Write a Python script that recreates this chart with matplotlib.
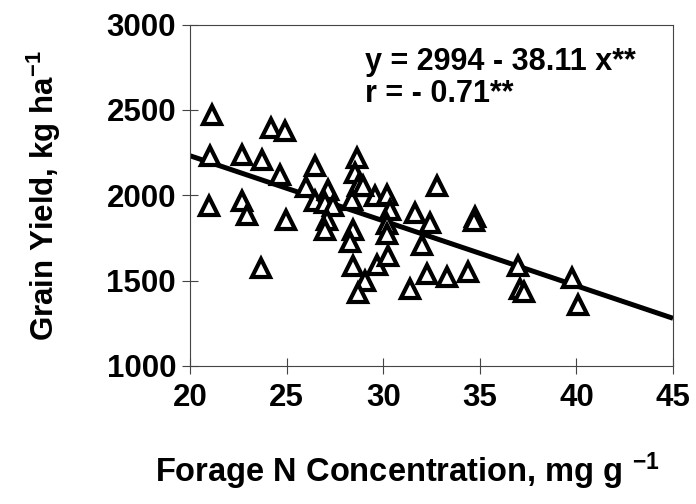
import numpy as np
import matplotlib
matplotlib.use("Agg")
import matplotlib.pyplot as plt

# forage N (mg/g) vs grain yield (kg/ha)
forage_n = [21.14, 21.04, 20.98, 24.19, 24.92, 22.69, 23.73, 24.66, 22.69, 22.95,
            24.97, 23.67, 26.00, 26.47, 26.47, 27.14, 26.99, 27.40, 27.09, 26.99,
            28.64, 28.54, 28.70, 28.39, 29.58, 30.20, 30.35, 30.20, 30.20, 28.44,
            28.28, 28.44, 29.68, 30.25, 29.06, 28.70, 31.39, 32.27, 33.30, 34.39,
            32.78, 31.65, 32.42, 32.01, 34.75, 34.70, 36.98, 37.08, 37.29, 39.77,
            40.08, 28.95]
grain_yield = [2468, 2228, 1936, 2392, 2374, 2234, 2205, 2117, 1965, 1883,
               1854, 1573, 2047, 2170, 1965, 2029, 1953, 1936, 1854, 1795,
               2216, 2129, 2053, 1971, 1994, 2000, 1912, 1830, 1772, 1795,
               1725, 1585, 1591, 1643, 1497, 1427, 1450, 1538, 1520, 1550,
               2053, 1895, 1836, 1708, 1871, 1848, 1585, 1450, 1433, 1515,
               1357, 2053]

intercept = 2994
slope = -38.11
x_ticks = [20, 25, 30, 35, 40, 45]
y_ticks = [1000, 1500, 2000, 2500, 3000]

plt.rcParams['font.family'] = 'Liberation Sans'
plt.rcParams['font.weight'] = 'bold'
plt.rcParams['mathtext.fontset'] = 'custom'
plt.rcParams['mathtext.rm'] = 'Liberation Sans:bold'
plt.rcParams['mathtext.it'] = 'Liberation Sans:bold'
plt.rcParams['mathtext.bf'] = 'Liberation Sans:bold'

fig = plt.figure(figsize=(6.96, 5.04), dpi=100)
ax = fig.add_axes([0.273, 0.274, 0.694, 0.677])

xl = np.array([20, 45])
ax.plot(xl, intercept + slope * xl, color='black', lw=3.6, solid_capstyle='butt', zorder=2)
ax.plot(forage_n, grain_yield, linestyle='none', marker='^', ms=12.5, mew=3.0,
        mfc='white', mec='black', zorder=3)

ax.set_xlim(20, 45)
ax.set_ylim(1000, 3000)
ax.set_xticks(x_ticks)
ax.set_yticks(y_ticks)
ax.tick_params(axis='both', labelsize=22.5, direction='inout', length=12, width=0.8, color='#444444')
ax.tick_params(axis='y', pad=4)
ax.tick_params(axis='x', pad=6)
for lab in ax.get_xticklabels() + ax.get_yticklabels():
    lab.set_fontweight('bold')
for s in ax.spines.values():
    s.set_linewidth(0.8)
    s.set_color('#444444')

ax.text(0.362, 0.868, 'y = 2994 - 38.11 x**', transform=ax.transAxes,
        fontsize=22, fontweight='bold', va='baseline', ha='left')
ax.text(0.362, 0.772, 'r = - 0.71**', transform=ax.transAxes,
        fontsize=22, fontweight='bold', va='baseline', ha='left')

fig.text(155 / 696, 1 - 482 / 504, r'Forage N Concentration, mg g $^{-1}$',
         fontsize=23.5, fontweight='bold', ha='left', va='baseline')
fig.text(44 / 696, 1 - 196 / 504, r'Grain Yield, kg ha$^{-1}$', rotation=90,
         fontsize=22.5, fontweight='bold', ha='center', va='center')

fig.savefig('out.png', dpi=100)
